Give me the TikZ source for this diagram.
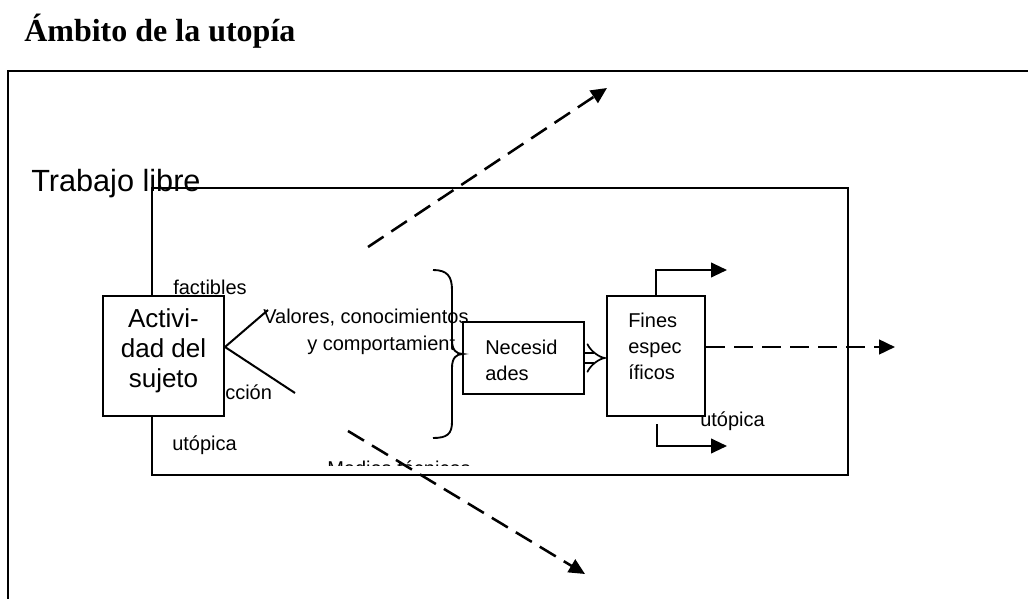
\documentclass[tikz,border=0pt]{standalone}
\usepackage{fontspec}
\setmainfont{Liberation Serif}
\setsansfont{Liberation Sans}
\usetikzlibrary{arrows.meta,calc}
\tikzset{
  boxnode/.style={draw, line width=1.5pt, fill=white, inner sep=0pt},
  lbl/.style={font=\sffamily\fontsize{15}{19.5}\selectfont, inner sep=0pt},
  boxtxt/.style={font=\sffamily\fontsize{15}{19.5}\selectfont, inner sep=0pt, align=left},
  dasharrow/.style={line width=1.9pt, dash pattern=on 14pt off 7pt, -{Triangle[length=12pt,width=11pt]}},
  solidarrow/.style={line width=1.5pt, -{Triangle[length=12pt,width=11pt]}},
  thinline/.style={line width=1.5pt}
}
\begin{document}
\begin{tikzpicture}[x=0.75pt,y=-0.75pt]
\useasboundingbox (0,0) rectangle (1028,599);
% outer frame
\draw[line width=1.6pt] (8,599) -- (8,71) -- (1028,71);
% title
\node[anchor=base west, inner sep=0pt, font=\bfseries\fontsize{24}{28}\selectfont] (title) at (24,42) {Ámbito de la utopía};
\node[anchor=base west, inner sep=0pt, font=\sffamily\fontsize{23}{27}\selectfont] (trabajo) at (31,192) {Trabajo libre};
% inner rectangle
\node[draw, line width=1.5pt, inner sep=0pt, minimum width=522pt, minimum height=215.25pt] (inner) at (500,331.5) {};
% labels
\node[lbl, anchor=base west] (fact) at (173,294) {factibles};
\node[lbl, anchor=base west] (accion) at (225,399) {cción};
\node[lbl, anchor=base west] (utop1) at (172,450) {utópica};
\node[lbl, anchor=base west] (val1) at (263,323) {Valores, conocimientos};
\node[lbl, anchor=base west] (val2) at (307,350) {y comportamient};
\begin{scope}
  \clip (300,440) rectangle (520,465.5);
  \node[lbl, anchor=base west] (medios) at (327,475) {Medios técnicos};
\end{scope}
% boxes
\node[boxnode, minimum width=90.75pt, minimum height=90pt] (act) at (163.5,356) {};
\node[boxnode, minimum width=90.75pt, minimum height=54pt] (nec) at (523.5,358) {};
\node[boxnode, minimum width=73.5pt, minimum height=90pt] (fin) at (656,356) {};
% lines from Actividad
\coordinate (v1) at (268,310);
\coordinate (v2) at (295,393);
\draw[thinline] ($(act.east)+(0,-9)$) -- (v1);
\draw[thinline] ($(act.east)+(0,-9)$) -- (v2);
% brace
\draw[line width=1.4pt] (433,270) .. controls (447,270) and (452,276) .. (452,290) -- (452,340)
  .. controls (452,350) and (456,354) .. (463,354)
  .. controls (456,354) and (452,358) .. (452,368) -- (452,422)
  .. controls (452,434) and (447,438) .. (433,438);
% box texts
\node[font=\sffamily\fontsize{19.5}{22.5}\selectfont, inner sep=0pt, align=center, anchor=north] (acttxt) at (163.5,308.3) {Activi-\\dad del\\sujeto};
\node[boxtxt, anchor=north west] (nectxt) at (485,339.4) {Necesid\\ades};
\node[boxtxt, anchor=north west] (fintxt) at (628,312.7) {Fines\\espec\\íficos};
% double arrow
\draw[line width=1.3pt, double, double distance=6.5pt, -{Implies}] (nec.east) -- (nec.east -| fin.west);
% dashed arrows
\coordinate (up1) at (368,247);
\coordinate (up2) at (607,88);
\coordinate (lo1) at (348,431);
\coordinate (lo2) at (585,574);
\coordinate (rt2) at (895,347);
\draw[dasharrow] (up1) -- (up2);
\draw[dasharrow] (lo1) -- (lo2);
\draw[dasharrow] ($(fin.east)+(0,-9)$) -- (rt2);
% bent arrows
\coordinate (b1) at (727,270);
\coordinate (b2) at (727,446);
\draw[solidarrow] (fin.north) |- (b1);
\draw[solidarrow] ($(fin.south)+(1,7)$) |- (b2);
\node[lbl, anchor=base west] (utop2) at (700,426) {utópica};
\end{tikzpicture}
\end{document}
